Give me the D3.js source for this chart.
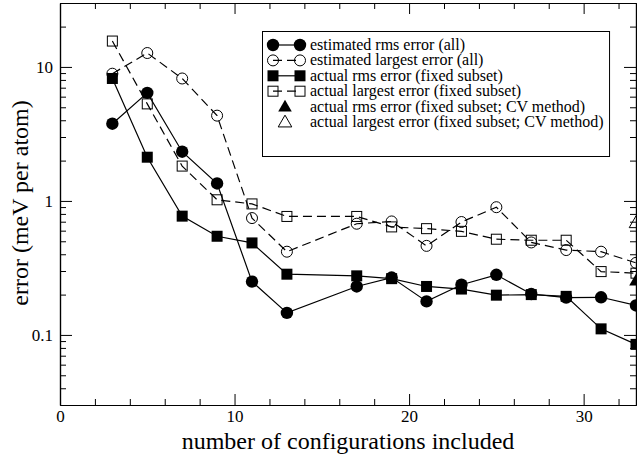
<!DOCTYPE html>
<html>
<head>
<meta charset="utf-8">
<script src="https://cdn.jsdelivr.net/npm/d3@7"></script>
<style>
html,body{margin:0;padding:0;background:#fff;}
svg{display:block;}
text{font-family:"Liberation Serif","Times New Roman",serif;fill:#000;}
</style>
</head>
<body>
<svg id="chart" width="637" height="457"></svg>
<script>
// ---- data ----
const configs = [3,5,7,9,11,13,17,19,21,23,25,27,29,31,33];
const estRms = [3.77,6.4,2.33,1.35,0.25,0.146,0.23,0.268,0.178,0.237,0.281,0.202,0.19,0.191,0.166];
const estLargest = [8.9,12.7,8.2,4.33,0.745,0.418,0.676,0.703,0.462,0.696,0.898,0.49,0.43,0.418,0.345];
const actRms = [8.2,2.12,0.77,0.545,0.486,0.284,0.276,0.263,0.23,0.22,0.198,0.2,0.194,0.111,0.085];
const actLargest = [15.6,5.3,1.82,1.02,0.95,0.766,0.766,0.64,0.621,0.593,0.518,0.509,0.509,0.297,0.289];
const cvConfigs = [33];
const cvRms = [0.25];
const cvLargest = [0.676];

const xMajorTicks = [0,10,20,30];
const xMinorTicks = [2,4,6,8,12,14,16,18,22,24,26,28,32];
const yMajorTicks = [0.1,1,10];
const yMinorTicks = [0.04,0.05,0.06,0.07,0.08,0.09,0.2,0.3,0.4,0.5,0.6,0.7,0.8,0.9,2,3,4,5,6,7,8,9,20];

const legendLabels = [
  "estimated rms error (all)",
  "estimated largest error (all)",
  "actual rms error (fixed subset)",
  "actual largest error (fixed subset)",
  "actual rms error (fixed subset; CV method)",
  "actual largest error (fixed subset; CV method)"
];

// ---- layout ----
const L = 60, R = 636, T = 3, B = 405;
const svg = d3.select("#chart");
const x = d3.scaleLinear().domain([0,33]).range([L,R]);
const y = d3.scaleLog().domain([0.03,30]).range([B,T]);

const fmtY = d => d === 0.1 ? "0.1" : String(d);

function styleAxis(g){
  g.selectAll("path.domain").attr("stroke","#000").attr("stroke-width",1.2);
  g.selectAll(".tick line").attr("stroke","#000").attr("stroke-width",1);
  g.selectAll(".tick text").style("font-family","'Liberation Serif',serif").style("font-size","17px").attr("fill","#000");
}

// bottom
svg.append("g").attr("transform",`translate(0,${B})`)
  .call(d3.axisBottom(x).tickValues(xMinorTicks).tickSizeInner(-6).tickSizeOuter(0).tickFormat(""))
  .call(styleAxis);
svg.append("g").attr("transform",`translate(0,${B})`)
  .call(d3.axisBottom(x).tickValues(xMajorTicks).tickSizeInner(-11).tickSizeOuter(0).tickPadding(5).tickFormat(d3.format("d")))
  .call(styleAxis);
// top
svg.append("g").attr("transform",`translate(0,${T})`)
  .call(d3.axisTop(x).tickValues(xMinorTicks).tickSizeInner(-6).tickSizeOuter(0).tickFormat(""))
  .call(styleAxis);
svg.append("g").attr("transform",`translate(0,${T})`)
  .call(d3.axisTop(x).tickValues(xMajorTicks).tickSizeInner(-11).tickSizeOuter(0).tickFormat(""))
  .call(styleAxis);
// left
svg.append("g").attr("transform",`translate(${L},0)`)
  .call(d3.axisLeft(y).tickValues(yMinorTicks).tickSizeInner(-6).tickSizeOuter(0).tickFormat(""))
  .call(styleAxis);
svg.append("g").attr("transform",`translate(${L},0)`)
  .call(d3.axisLeft(y).tickValues(yMajorTicks).tickSizeInner(-12).tickSizeOuter(0).tickPadding(7).tickFormat(fmtY))
  .call(styleAxis);
// right
svg.append("g").attr("transform",`translate(${R},0)`)
  .call(d3.axisRight(y).tickValues(yMinorTicks).tickSizeInner(-6).tickSizeOuter(0).tickFormat(""))
  .call(styleAxis);
svg.append("g").attr("transform",`translate(${R},0)`)
  .call(d3.axisRight(y).tickValues(yMajorTicks).tickSizeInner(-12).tickSizeOuter(0).tickFormat(""))
  .call(styleAxis);

// axis titles
svg.append("text").attr("x",(L+R)/2).attr("y",449).attr("text-anchor","middle")
  .style("font-size","24px").text("number of configurations included");
svg.append("text").attr("transform","translate(28,203) rotate(-90)").attr("text-anchor","middle")
  .style("font-size","24px").text("error (meV per atom)");

// ---- series ----
const plot = svg.append("g");
const line = d3.line().x(d=>x(d[0])).y(d=>y(d[1]));
function series(vals, dashed){
  const pts = configs.map((c,i)=>[c, vals[i]]);
  plot.append("path").datum(pts).attr("d",line).attr("fill","none")
    .attr("stroke","#000").attr("stroke-width",1.2)
    .attr("stroke-dasharray", dashed ? "9,5" : null);
  return pts;
}
function marker(g, type, cx, cy){
  if(type==="fc") g.append("circle").attr("cx",cx).attr("cy",cy).attr("r",6.2).attr("fill","#000");
  if(type==="oc") g.append("circle").attr("cx",cx).attr("cy",cy).attr("r",5.5).attr("fill","none").attr("stroke","#000").attr("stroke-width",1);
  if(type==="fs") g.append("rect").attr("x",cx-5.5).attr("y",cy-5.5).attr("width",11).attr("height",11).attr("fill","#000");
  if(type==="os") g.append("rect").attr("x",cx-5).attr("y",cy-5).attr("width",10).attr("height",10).attr("fill","none").attr("stroke","#000").attr("stroke-width",1);
  if(type==="ft") g.append("path").attr("transform",`translate(${cx},${cy})`).attr("d",d3.symbol(d3.symbolTriangle,80)()).attr("fill","#000");
  if(type==="ot") g.append("path").attr("transform",`translate(${cx},${cy})`).attr("d",d3.symbol(d3.symbolTriangle,80)()).attr("fill","none").attr("stroke","#000").attr("stroke-width",1);
}
const sets = [
  {vals:estRms, dashed:false, m:"fc"},
  {vals:estLargest, dashed:true, m:"oc"},
  {vals:actRms, dashed:false, m:"fs"},
  {vals:actLargest, dashed:true, m:"os"}
];
sets.forEach(s=>{
  const pts = series(s.vals, s.dashed);
  pts.forEach(p=>marker(plot, s.m, x(p[0]), y(p[1])));
});
cvConfigs.forEach((c,i)=>{
  marker(plot,"ft",x(c),y(cvRms[i]));
  marker(plot,"ot",x(c),y(cvLargest[i]));
});

// ---- legend ----
const lg = svg.append("g");
const box = lg.append("rect").attr("x",262.5).attr("y",31.5).attr("height",125)
  .attr("fill","#fff").attr("stroke","#000").attr("stroke-width",1);
const legendMarks = ["fc","oc","fs","os","ft","ot"];
let maxW = 0;
legendLabels.forEach((lab,i)=>{
  const cy = 45 + i*15.4;
  const m = legendMarks[i];
  if(i<4){
    lg.append("line").attr("x1",273).attr("x2",300).attr("y1",cy).attr("y2",cy)
      .attr("stroke","#000").attr("stroke-width",1.2).attr("stroke-dasharray", (i%2===1) ? "9,5" : null);
    marker(lg,m,273,cy);
    marker(lg,m,300,cy);
  } else {
    marker(lg,m,285,cy+1);
  }
  const t = lg.append("text").attr("x",310).attr("y",cy+5).style("font-size","16px").text(lab);
  maxW = Math.max(maxW, t.node().getComputedTextLength());
});
box.attr("width", 310 + maxW + 6 - 262.5);
</script>
</body>
</html>
